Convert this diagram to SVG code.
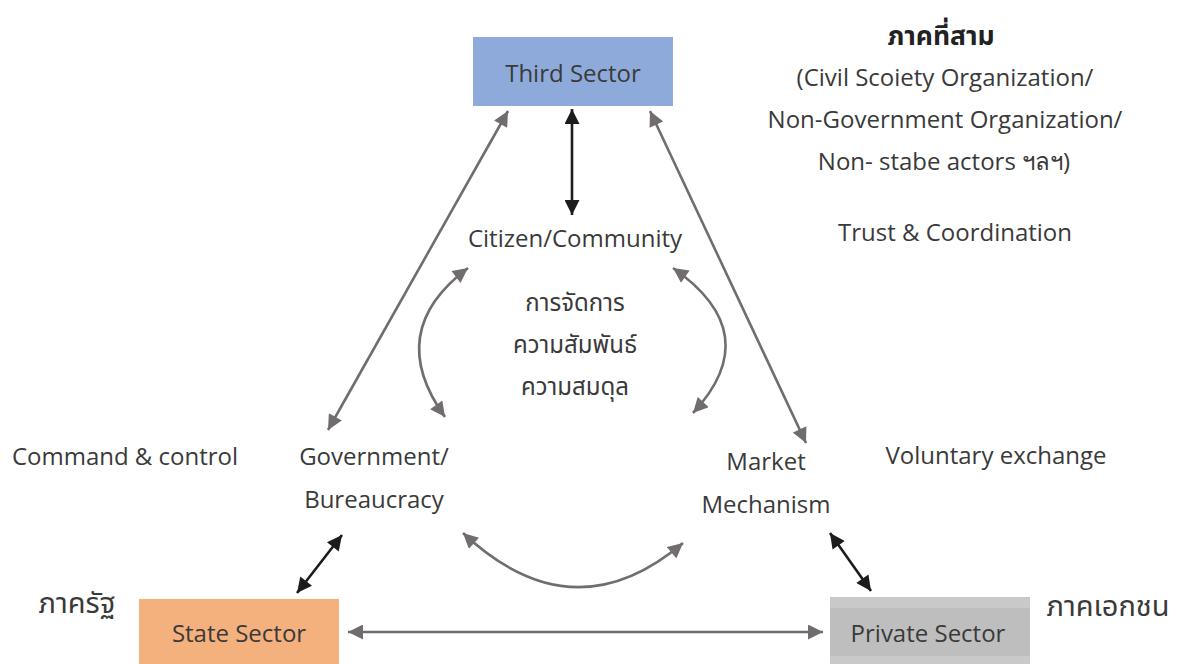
<svg xmlns="http://www.w3.org/2000/svg" width="1177" height="664" viewBox="0 0 1177 664">
<style>
.t{font-family:"Open Sans","Liberation Sans",sans-serif;font-size:24px;fill:#3a3a3a;text-anchor:middle}
.th{font-family:"Noto Sans Thai","Leelawadee UI","Noto Sans","DejaVu Sans",sans-serif;font-size:24px;fill:#3a3a3a;text-anchor:middle}
.big{font-size:29px}
.b{font-weight:bold;fill:#222;font-size:26.5px}
.g{fill:none;stroke:#716d6d;stroke-width:2.6}
.k{fill:none;stroke:#1c1c1c;stroke-width:2.6}
</style>
<defs>
<marker id="ag" viewBox="0 0 10 10" refX="10" refY="5" markerWidth="16" markerHeight="15" markerUnits="userSpaceOnUse" orient="auto-start-reverse"><path d="M0,0 L10,5 L0,10 z" fill="#716d6d"/></marker>
<marker id="ak" viewBox="0 0 10 10" refX="10" refY="5" markerWidth="16" markerHeight="15" markerUnits="userSpaceOnUse" orient="auto-start-reverse"><path d="M0,0 L10,5 L0,10 z" fill="#1c1c1c"/></marker>
</defs>
<rect width="1177" height="664" fill="#ffffff"/>

<g id="connectors">
<line class="k" x1="572" y1="109" x2="572" y2="215" marker-start="url(#ak)" marker-end="url(#ak)"/>
<line class="g" x1="328" y1="430" x2="508" y2="111" marker-start="url(#ag)" marker-end="url(#ag)"/>
<line class="g" x1="650" y1="111" x2="806" y2="443" marker-start="url(#ag)" marker-end="url(#ag)"/>
<path class="g" d="M468,268 Q383.5,331.5 445,417" marker-start="url(#ag)" marker-end="url(#ag)"/>
<path class="g" d="M673,268 Q767,333.5 693,413" marker-start="url(#ag)" marker-end="url(#ag)"/>
<path class="g" d="M463,533 Q573,636 683,543" marker-start="url(#ag)" marker-end="url(#ag)"/>
<line class="k" x1="342" y1="535" x2="297" y2="593" marker-start="url(#ak)" marker-end="url(#ak)"/>
<line class="k" x1="830" y1="533" x2="871" y2="591" marker-start="url(#ak)" marker-end="url(#ak)"/>
<line class="g" x1="348" y1="632" x2="823" y2="632" marker-start="url(#ag)" marker-end="url(#ag)"/>
</g>

<g id="third-sector">
<rect x="473" y="37" width="200" height="69" fill="#8eaadb"/>
<text class="t" x="573" y="82" fill="#2b2b38">Third Sector</text>
</g>

<g id="state-sector">
<rect x="139" y="599" width="200" height="65" fill="#f4b07d"/>
<text class="t" x="239" y="642">State Sector</text>
</g>

<g id="private-sector">
<rect x="830" y="597" width="200" height="67" fill="#c9c9c9"/>
<rect x="830" y="608" width="200" height="48" fill="#bebebe"/>
<text class="t" x="928" y="642">Private Sector</text>
</g>

<g id="citizen">
<text class="t" x="575" y="247">Citizen/Community</text>
</g>

<g id="government">
<text class="t" x="374" y="465">Government/</text>
<text class="t" x="374" y="508">Bureaucracy</text>
</g>

<g id="market">
<text class="t" x="766" y="470">Market</text>
<text class="t" x="766" y="513">Mechanism</text>
</g>

<g id="center-label">
<text class="th" x="575" y="311">การจัดการ</text>
<text class="th" x="575" y="353">ความสัมพันธ์</text>
<text class="th" x="575" y="395">ความสมดุล</text>
</g>

<g id="third-sector-note">
<text class="th b" x="941" y="45">ภาคที่สาม</text>
<text class="t" x="945" y="86">(Civil Scoiety Organization/</text>
<text class="t" x="945" y="128">Non-Government Organization/</text>
<text class="t" x="944" y="170">Non- stabe actors ฯลฯ)</text>
<text class="t" x="955" y="241">Trust &amp; Coordination</text>
</g>

<g id="side-labels">
<text class="t" x="125" y="465">Command &amp; control</text>
<text class="t" x="996" y="464">Voluntary exchange</text>
<text class="th big" x="77" y="613">ภาครัฐ</text>
<text class="th big" x="1108" y="616">ภาคเอกชน</text>
</g>
</svg>
